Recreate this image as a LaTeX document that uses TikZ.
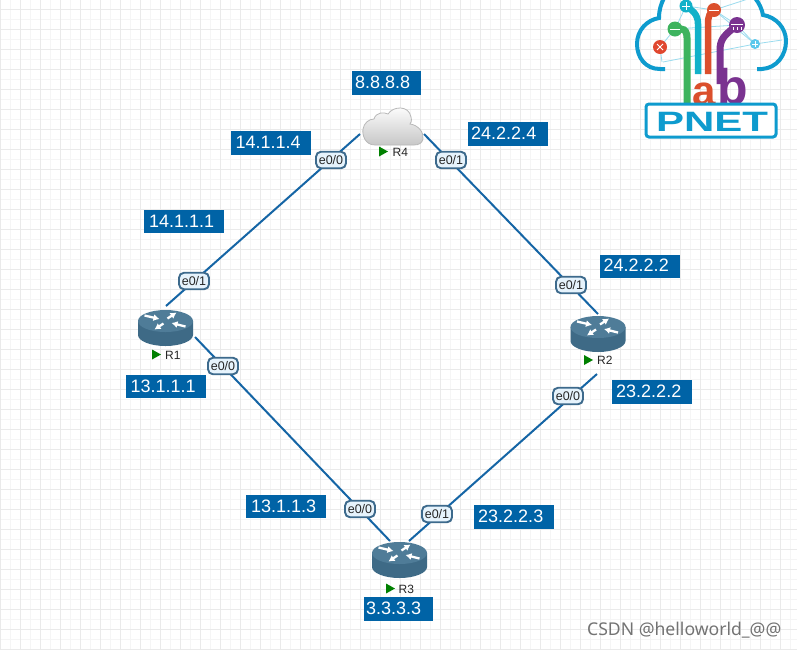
\documentclass[tikz,border=0pt]{standalone}
\usepackage{fontspec}
\setmainfont{Liberation Sans}
\newfontfamily\wmfont{Noto Sans}
\usetikzlibrary{arrows.meta}
\definecolor{ipblue}{HTML}{0063A6}
\definecolor{linkblue}{HTML}{1565A5}
\definecolor{portfill}{HTML}{E6F3FC}
\definecolor{portline}{HTML}{3D6A8C}
\definecolor{routertop}{HTML}{4F7C98}
\definecolor{routerside}{HTML}{3E6A86}
\definecolor{gridmin}{HTML}{F5F5F5}
\definecolor{gridmaj}{HTML}{EAEAEA}
\definecolor{logoblue}{HTML}{0E9BCE}
\definecolor{logogreen}{HTML}{3DB35E}
\definecolor{logoteal}{HTML}{12B1C9}
\definecolor{logoorange}{HTML}{DB4F2C}
\definecolor{logopurple}{HTML}{7A3390}
\definecolor{logothin}{HTML}{9ADBEE}
\definecolor{logored}{HTML}{E0472F}
\definecolor{logolight}{HTML}{5CC8EC}
\tikzset{
  x=1pt,y=-1pt,
  ipbox/.style={text=white,font=\fontsize{18}{18}\selectfont,anchor=west,inner sep=0pt},
  port/.style={draw=portline,fill=portfill,line width=1.9pt,rounded corners=5pt,minimum width=30pt,minimum height=16.5pt,inner sep=0pt,text=black!85,font=\fontsize{12.5}{13}\selectfont},
  linkline/.style={draw=linkblue,line width=2pt},
  devname/.style={font=\fontsize{12}{12}\selectfont,text=black!85,inner sep=0pt,anchor=west},
  runmark/.style={fill=green!50!black,draw=none},
  thin net/.style={draw=logothin,line width=0.8pt},
  rarrow/.style={white,line width=2.3pt,-{Latex[length=6pt,width=7pt]}},
  router/.pic={
    \fill[routerside] (-27.5,0) -- (-27.5,14) .. controls (-27.5,20) and (-15,25) .. (0,25) .. controls (15,25) and (27.5,20) .. (27.5,14) -- (27.5,0) -- cycle;
    \fill[routertop] (0,0) ellipse[x radius=27.5,y radius=11];
    \draw[rarrow] (-21,-5.5) -- (-6,-2);
    \draw[rarrow] (20,5.5) -- (6,2);
    \draw[rarrow] (2,-2.5) -- (11,-8.5);
    \draw[rarrow] (-2,2.5) -- (-11,8.5);
  }
}
\begin{document}
\begin{tikzpicture}
\useasboundingbox (0,0) rectangle (797,649);
\fill[white] (0,0) rectangle (797,649);
% grid
\foreach \g in {0,20,...,780} {\draw[gridmin,line width=0.8pt] (\g+10.5,0) -- (\g+10.5,649);}
\foreach \g in {0,20,...,640} {\draw[gridmin,line width=0.8pt] (0,\g+19.5) -- (797,\g+19.5);}
\foreach \g in {0,20,...,780} {\draw[gridmaj,line width=1pt] (\g+0.5,0) -- (\g+0.5,649);}
\foreach \g in {0,20,...,640} {\draw[gridmaj,line width=1pt] (0,\g+9.5) -- (797,\g+9.5);}

% link end points
\coordinate (r1a) at (166,306);
\coordinate (r1b) at (195,337);
\coordinate (r4a) at (360,134);
\coordinate (r4b) at (424,134);
\coordinate (r2a) at (598,314);
\coordinate (r2b) at (597,374);
\coordinate (r3a) at (390,541);
\coordinate (r3b) at (409,541);
\draw[linkline] (r1a) -- (r4a);
\draw[linkline] (r4b) -- (r2a);
\draw[linkline] (r1b) -- (r3a);
\draw[linkline] (r2b) -- (r3b);

% routers
\pic at (165.5,321) {router};
\pic at (598,327) {router};
\pic at (399.5,553) {router};

% cloud R4
\shade[top color=white,bottom color=black!22,draw=black!28,line width=0.8pt]
  (375,145) .. controls (365,145) and (362,135) .. (363,129)
  .. controls (364,123) and (369,119) .. (374,119)
  .. controls (376,112) and (384,112) .. (388,114)
  .. controls (393,106) and (409,105) .. (411,117)
  .. controls (412,121) and (411,123) .. (410,124)
  .. controls (418,125) and (424,132) .. (423,139)
  .. controls (422,143) and (419,145) .. (414,145) -- cycle;

% device labels
\fill[runmark] (379,146.5) -- (388,151.5) -- (379,156.5) -- cycle;
\node[devname] (nr4) at (392.5,152) {R4};
\fill[runmark] (152,349.5) -- (161,354.5) -- (152,359.5) -- cycle;
\node[devname] (nr1) at (165,355) {R1};
\fill[runmark] (584,355) -- (593,360) -- (584,365) -- cycle;
\node[devname] (nr2) at (597,360.5) {R2};
\fill[runmark] (386,583.5) -- (395,588.5) -- (386,593.5) -- cycle;
\node[devname] (nr3) at (398.5,589) {R3};

% ports
\node[port] (p1) at (331,160) {e0/0};
\node[port] (p2) at (194,281) {e0/1};
\node[port] (p3) at (451,160) {e0/1};
\node[port] (p4) at (571,285) {e0/1};
\node[port] (p5) at (223,366) {e0/0};
\node[port] (p6) at (360,509) {e0/0};
\node[port] (p7) at (568,396) {e0/0};
\node[port] (p8) at (437,514) {e0/1};

% IP boxes
\fill[ipblue] (352,71) rectangle (421,95);
\node[ipbox] (i1) at (355,82.5) {8.8.8.8};
\fill[ipblue] (231,131) rectangle (311,155);
\node[ipbox] (i2) at (235.5,142.5) {14.1.1.4};
\fill[ipblue] (468,122) rectangle (548,146);
\node[ipbox] (i3) at (471,133.5) {24.2.2.4};
\fill[ipblue] (144,210) rectangle (224,233);
\node[ipbox] (i4) at (149,221) {14.1.1.1};
\fill[ipblue] (600,255) rectangle (680,278);
\node[ipbox] (i5) at (603.5,265.5) {24.2.2.2};
\fill[ipblue] (126,375) rectangle (206,398);
\node[ipbox] (i6) at (130.5,386) {13.1.1.1};
\fill[ipblue] (612,380) rectangle (692,404);
\node[ipbox] (i7) at (616,391.5) {23.2.2.2};
\fill[ipblue] (246,495) rectangle (326,518);
\node[ipbox] (i8) at (251,506) {13.1.1.3};
\fill[ipblue] (474,505) rectangle (554,529);
\node[ipbox] (i9) at (478,516.5) {23.2.2.3};
\fill[ipblue] (364,597) rectangle (433,621);
\node[ipbox] (i10) at (366,608.5) {3.3.3.3};

% logo
\begin{scope}
\clip (625,0) rectangle (797,649);
\draw[thin net] (660,47) -- (675,29) -- (686,6) -- (714,10) -- (737,25) -- (755,44) -- (663,62);
\draw[thin net] (675,29) -- (737,25);
\draw[thin net] (714,10) -- (755,44);
\draw[thin net] (714,10) -- (748,-1);
\draw[thin net] (660,47) -- (662,62);
\draw[thin net] (755,44) -- (782,40);
\draw[logoblue,line width=4pt] (665,69) -- (660,69) .. controls (645,69) and (637,57) .. (637,44)
  .. controls (637,30) and (647,20) .. (659,18) .. controls (659,10) and (661,4) .. (664,-2);
\draw[logoblue,line width=4pt] (757,69) -- (762,69) .. controls (777,68) and (786,55) .. (786,41)
  .. controls (786,28) and (776,17) .. (763,15) .. controls (762,9) and (759,3) .. (755,-2);
\draw[logoteal,line width=6.5pt] (686,6) .. controls (692,10) and (698,14) .. (698,24) -- (698,74);
\draw[logoorange,line width=6.5pt] (714,10) .. controls (710,12) and (708,16) .. (708,24) -- (708,74);
\draw[logogreen,line width=7pt] (675,29) -- (681,29) .. controls (686,29) and (687,34) .. (687,38) -- (687,104);
\draw[logopurple,line width=7pt] (737,25) -- (731,30) .. controls (724,36) and (720,40) .. (720,50) -- (720,84);
\fill[logored] (660,47) circle (7);
\fill[logogreen] (675,29) circle (7.5);
\fill[logoteal] (686,6) circle (6.5);
\fill[logoorange] (714,10) circle (7);
\fill[logopurple] (737,25) circle (8);
\fill[logolight] (755,44) circle (5);
\draw[white,line width=1pt] (657,44) -- (663,50) (663,44) -- (657,50);
\draw[white,line width=1pt] (670,29) -- (680,29);
\draw[white,line width=1pt] (682,6) -- (690,6) (686,2) -- (686,10);
\draw[white,line width=1pt] (709,10) -- (719,10);
\draw[white,line width=1pt] (731,24) -- (743,24) (733,27) -- (733,30) (737,27) -- (737,30) (741,27) -- (741,30);
\draw[white,line width=0.8pt] (752,44) -- (758,44) (755,41) -- (755,47);
\node[inner sep=0pt,anchor=base,text=logoorange,font=\fontsize{42}{42}\selectfont\bfseries] (loga) at (704,105) {a};
\node[inner sep=0pt,anchor=base,text=logopurple,font=\fontsize{50}{50}\selectfont\bfseries] (logob) at (733,104.5) {b};
\draw[logoblue,line width=3pt,rounded corners=3pt,fill=white] (646,104) rectangle (776,137);
\node[inner sep=0pt,text=logoblue,font=\fontsize{28}{28}\selectfont\bfseries,xscale=1.5] (pnet) at (712,121.5) {PNET};
\end{scope}

% watermark
\node[inner sep=0pt,text=black!55,font=\wmfont\fontsize{17.6}{18}\selectfont,anchor=west] (wm) at (587,630.5) {CSDN @helloworld\_@@};
\end{tikzpicture}
\end{document}
